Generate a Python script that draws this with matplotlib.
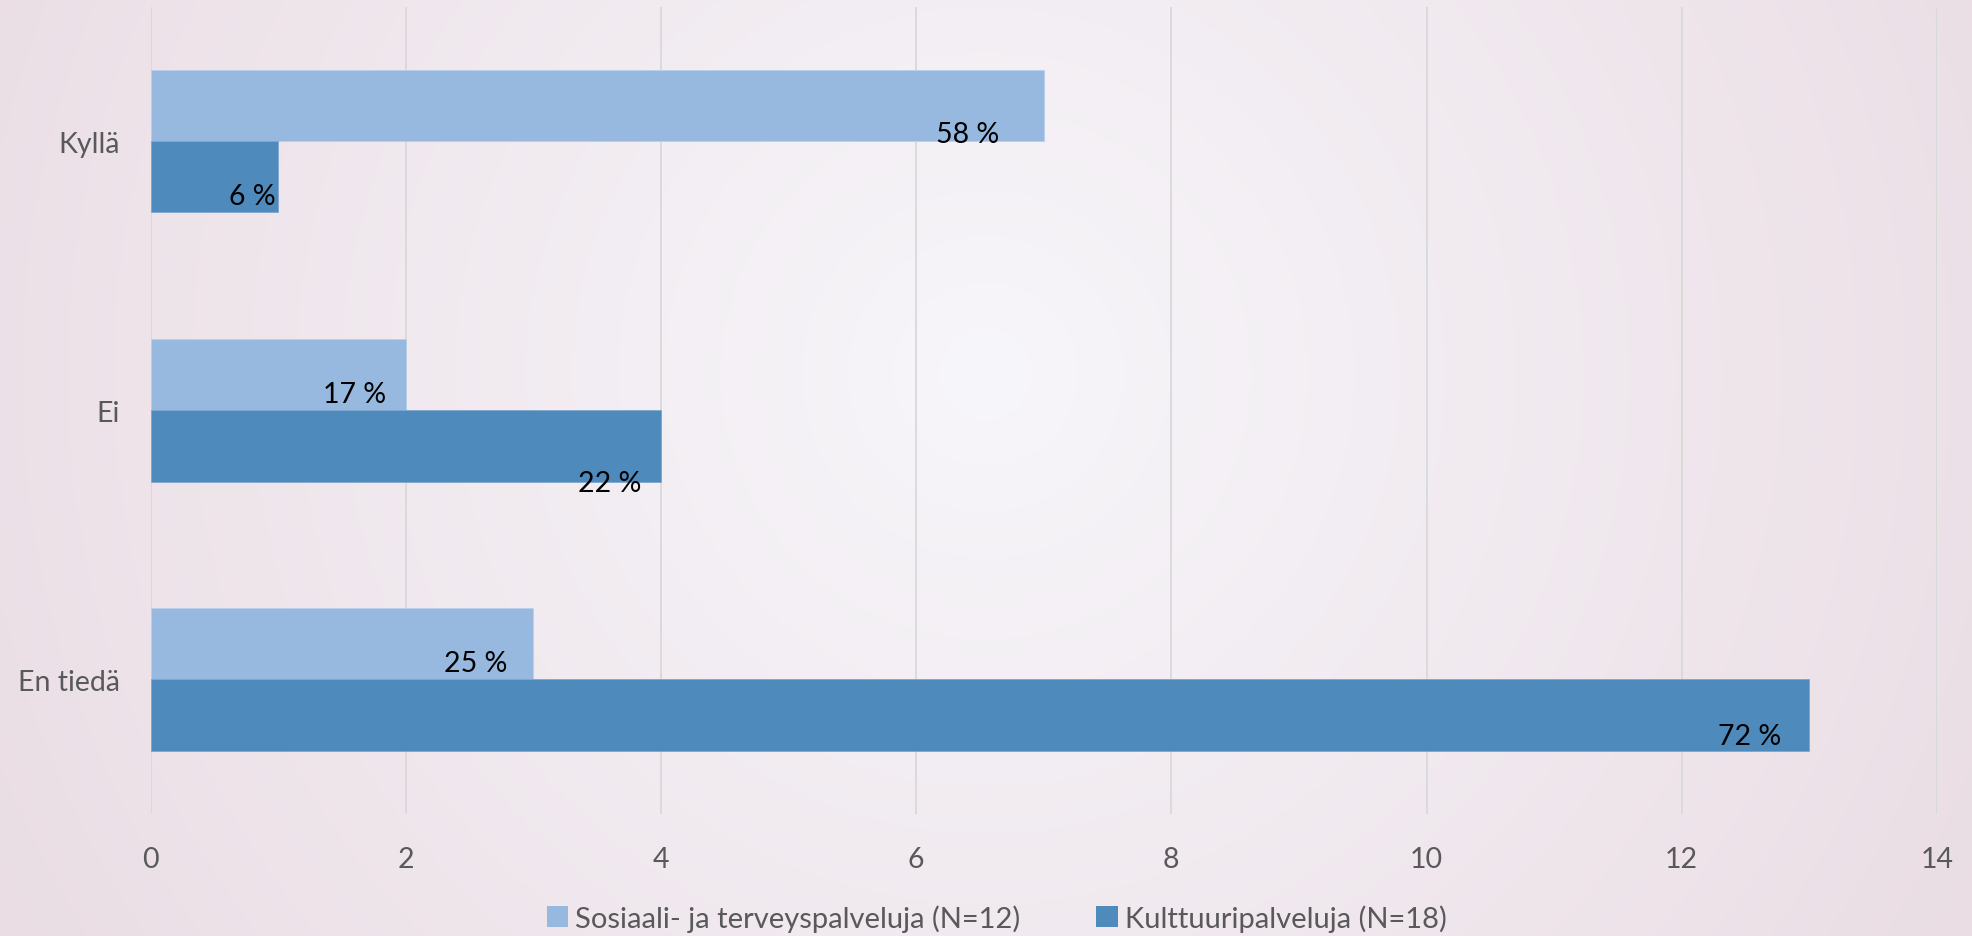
import numpy as np
import matplotlib
matplotlib.use('Agg')
import matplotlib.pyplot as plt
from matplotlib.patches import Patch

# ---- data ----
categories = ['Kyllä', 'Ei', 'En tiedä']
sote_values = [7, 2, 3]
kult_values = [1, 4, 13]
sote_labels = ['58 %', '17 %', '25 %']
kult_labels = ['6 %', '22 %', '72 %']
series_names = ['Sosiaali- ja terveyspalveluja (N=12)', 'Kulttuuripalveluja (N=18)']
x_ticks = [0, 2, 4, 6, 8, 10, 12, 14]

# ---- styles ----
LIGHT = '#98B9DF'
DARK = '#4F8ABD'
TXT = '#595959'
FONT = ['Lato', 'DejaVu Sans']
FS = 20.5
# label offsets (points) relative to bar end / bar centre
sote_offsets = [(-32, -20), (-14, -14), (-19, -14)]
kult_offsets = [(-2, -14), (-14, -27), (-20, -15)]

plt.rcParams['font.family'] = FONT

W, H, DPI = 1972, 937, 100
fig = plt.figure(figsize=(W / DPI, H / DPI), dpi=DPI)

# background radial gradient
bg = fig.add_axes([0, 0, 1, 1], zorder=0)
yy, xx = np.mgrid[0:1:300j, 0:1:600j]
dx = (xx - 0.50) * W
dy = (yy - 0.40) * H
d = np.sqrt(dx ** 2 + dy ** 2) / 1150.0
d = np.clip(d, 0, 1)
c0 = np.array([247, 246, 250]) / 255.0
c1 = np.array([234, 221, 228]) / 255.0
img = c0[None, None, :] * (1 - d[..., None]) + c1[None, None, :] * d[..., None]
bg.imshow(img, extent=[0, 1, 0, 1], aspect='auto', origin='upper')
bg.axis('off')

ax = fig.add_axes([0.0764, 0.1302, 0.9058, 0.8613], zorder=1)
ax.set_facecolor('none')

y = np.arange(len(categories))
h = 0.264
b1 = ax.barh(y - h / 2, sote_values, height=h, color=LIGHT, edgecolor='#B9CFEA', linewidth=0.6,
             label=series_names[0], zorder=3)
b2 = ax.barh(y + h / 2, kult_values, height=h, color=DARK, edgecolor='#7FA6CF', linewidth=0.6,
             label=series_names[1], zorder=3)

for i in range(len(categories)):
    ax.annotate(sote_labels[i], xy=(sote_values[i], y[i] - h / 2), xytext=sote_offsets[i],
                textcoords='offset points', ha='right', va='center', fontsize=FS, color='black', zorder=4)
    ax.annotate(kult_labels[i], xy=(kult_values[i], y[i] + h / 2), xytext=kult_offsets[i],
                textcoords='offset points', ha='right', va='center', fontsize=FS, color='black', zorder=4)

ax.set_xlim(0, 14)
ax.set_ylim(2.5, -0.5)
ax.set_xticks(x_ticks)
ax.set_xticklabels([str(t) for t in x_ticks])
ax.set_yticks(y)
ax.set_yticklabels(categories)
ax.xaxis.grid(True, color='#D9D9D9', linewidth=1.3, zorder=0)
ax.set_axisbelow(True)
for s in ax.spines.values():
    s.set_visible(False)
ax.tick_params(axis='x', length=0, pad=23, labelsize=FS, labelcolor=TXT)
ax.tick_params(axis='y', length=0, pad=22, labelsize=FS, labelcolor=TXT)

handles = [Patch(facecolor=LIGHT, edgecolor='none'), Patch(facecolor=DARK, edgecolor='none')]
leg = fig.legend(handles, series_names, loc='center', bbox_to_anchor=(0.5054, 1 - 919 / H), ncol=2,
                 frameon=False, fontsize=21, handlelength=0.73, handleheight=0.73,
                 handletextpad=0.25, columnspacing=2.6)
for t in leg.get_texts():
    t.set_color(TXT)

fig.savefig('out.png', dpi=DPI)
